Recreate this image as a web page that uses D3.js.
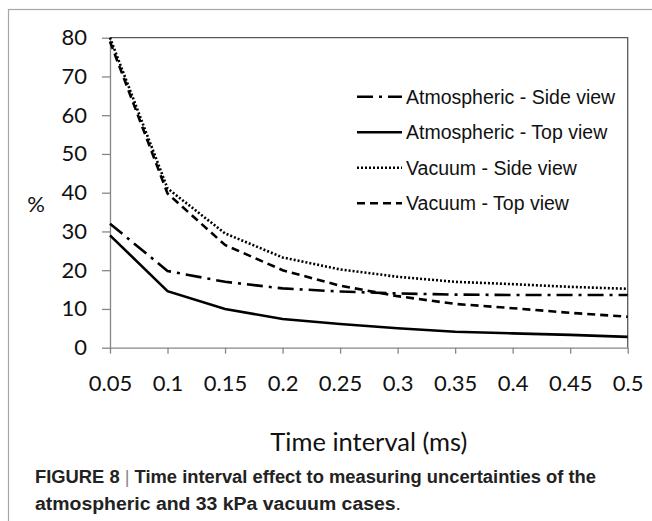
<!DOCTYPE html>
<html>
<head>
<meta charset="utf-8">
<script src="https://cdn.jsdelivr.net/npm/d3@7"></script>
<style>
  body { margin: 0; background: #fff; }
  svg { display: block; }
</style>
</head>
<body>
<div class="canvas"></div>
<script>
// data
const timeIntervals = [0.05, 0.1, 0.15, 0.2, 0.25, 0.3, 0.35, 0.4, 0.45, 0.5];
const xTickLabels = ['0.05', '0.1', '0.15', '0.2', '0.25', '0.3', '0.35', '0.4', '0.45', '0.5'];
const yTicks = [0, 10, 20, 30, 40, 50, 60, 70, 80];

const atmSide = [32, 19.8, 17, 15.3, 14.5, 14, 13.7, 13.6, 13.6, 13.6];
const atmTop = [29, 14.6, 10, 7.4, 6.1, 5, 4.1, 3.7, 3.3, 2.8];
const vacSide = [80, 41.1, 29.5, 23.3, 20.2, 18.3, 17, 16.4, 15.7, 15.2];
const vacTop = [79, 39.8, 26.5, 20, 16, 13.3, 11.3, 10.2, 9, 8];

const seriesNames = ['Atmospheric - Side view', 'Atmospheric - Top view', 'Vacuum - Side view', 'Vacuum - Top view'];
const seriesValues = [atmSide, atmTop, vacSide, vacTop];
const seriesDash = ['16,6,3,6', null, '2,2', '8,5'];

const captionBold = 'FIGURE 8';
const captionLine1 = 'Time interval effect to measuring uncertainties of the';
const captionLine2 = 'atmospheric and 33 kPa vacuum cases';

// dimensions
const dims = {width: 652, height: 521};
const plot = {left: 110, right: 627.7, top: 37.7, bottom: 347.7};

const svg = d3.select('.canvas')
  .append('svg')
  .attr('width', dims.width)
  .attr('height', dims.height);

// outer frame (right and bottom edges fall outside the view)
svg.append('rect')
  .attr('x', 8.5).attr('y', 9.5)
  .attr('width', 700).attr('height', 600)
  .attr('fill', 'none')
  .attr('stroke', '#a6a6a6')
  .attr('stroke-width', 1.2);

// scales
const x = d3.scaleLinear().domain([0.05, 0.5]).range([plot.left, plot.right]);
const y = d3.scaleLinear().domain([0, 80]).range([plot.bottom, plot.top]);

// plot border top + right
svg.append('path')
  .attr('d', `M${plot.left},${plot.top}H${plot.right}V${plot.bottom}`)
  .attr('fill', 'none')
  .attr('stroke', '#595959')
  .attr('stroke-width', 1.3);

// axes
const xAxis = d3.axisBottom(x)
  .tickValues(timeIntervals)
  .tickFormat((d, i) => xTickLabels[i])
  .tickSizeInner(6).tickSizeOuter(0).tickPadding(22);

const yAxis = d3.axisLeft(y)
  .tickValues(yTicks)
  .tickSizeInner(8).tickSizeOuter(0).tickPadding(15);

const gx = svg.append('g')
  .attr('transform', `translate(0,${plot.bottom})`)
  .call(xAxis);

const gy = svg.append('g')
  .attr('transform', `translate(${plot.left},0)`)
  .call(yAxis);

[gx, gy].forEach(g => {
  g.selectAll('path, line').attr('stroke', '#868686').attr('stroke-width', 1.3);
  g.selectAll('text')
    .attr('fill', '#111')
    .style('font-family', 'Lato, "Open Sans", sans-serif')
    .style('font-size', '22px');
});
gx.selectAll('text').attr('dy', '0.71em');

// axis titles
svg.append('text')
  .attr('x', (plot.left + plot.right) / 2)
  .attr('y', 451)
  .attr('text-anchor', 'middle')
  .attr('fill', '#111')
  .style('font-family', 'Lato, "Open Sans", sans-serif')
  .style('font-size', '25.5px')
  .text('Time interval (ms)');

svg.append('text')
  .attr('x', 36)
  .attr('y', 204)
  .attr('dy', '0.35em')
  .attr('text-anchor', 'middle')
  .attr('fill', '#111')
  .style('font-family', 'Lato, "Open Sans", sans-serif')
  .style('font-size', '22px')
  .text('%');

// lines
const line = d3.line()
  .x((d, i) => x(timeIntervals[i]))
  .y(d => y(d));

svg.append('g')
  .selectAll('path')
  .data(seriesValues)
  .enter()
  .append('path')
  .attr('d', line)
  .attr('fill', 'none')
  .attr('stroke', '#000')
  .attr('stroke-width', 2.6)
  .attr('stroke-dasharray', (d, i) => seriesDash[i]);

// legend
const legendGroup = svg.append('g');
const rows = legendGroup.selectAll('g')
  .data(seriesNames)
  .enter()
  .append('g')
  .attr('transform', (d, i) => `translate(357,${96.7 + i * 35.5})`);

rows.append('line')
  .attr('x1', 0).attr('x2', 45)
  .attr('stroke', '#000')
  .attr('stroke-width', 2.6)
  .attr('stroke-dasharray', (d, i) => seriesDash[i]);

rows.append('text')
  .attr('x', 49)
  .attr('dy', '0.36em')
  .attr('fill', '#111')
  .style('font-family', '"Liberation Sans", Arial, sans-serif')
  .style('font-size', '19.5px')
  .text(d => d);

// caption
const cap = svg.append('g')
  .style('font-family', '"Liberation Sans Narrow", "Arial Narrow", "Liberation Sans", sans-serif')
  .style('font-size', '18px')
  .attr('fill', '#222');

const c1 = cap.append('text')
  .attr('x', 35).attr('y', 483)
  .attr('textLength', 561)
  .attr('lengthAdjust', 'spacingAndGlyphs');
c1.append('tspan').style('font-weight', 'bold').text(captionBold + ' ');
c1.append('tspan').attr('fill', '#888').text('| ');
c1.append('tspan').style('font-weight', 'bold').text(captionLine1);

const c2 = cap.append('text')
  .attr('x', 35).attr('y', 510)
  .attr('textLength', 366)
  .attr('lengthAdjust', 'spacingAndGlyphs');
c2.append('tspan').style('font-weight', 'bold').text(captionLine2);
c2.append('tspan').text('.');
</script>
</body>
</html>
